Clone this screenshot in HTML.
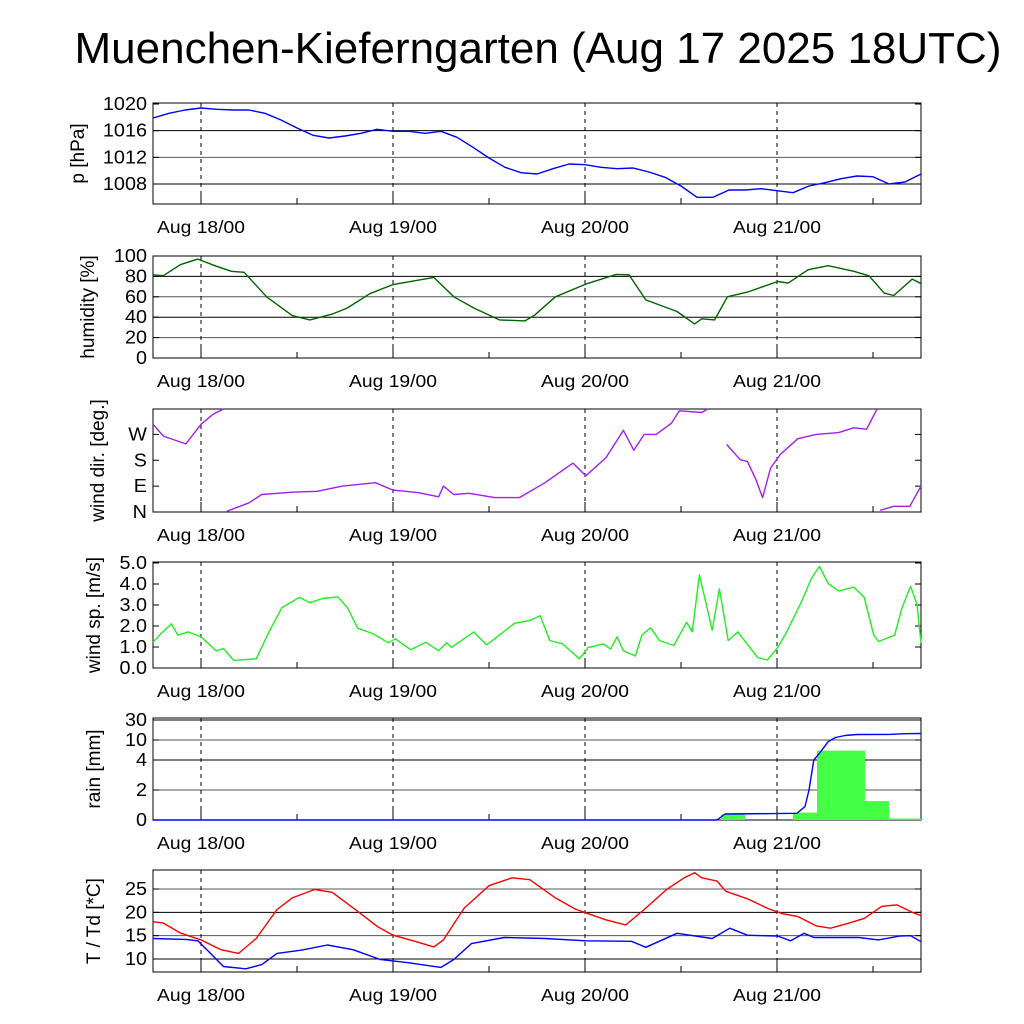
<!DOCTYPE html>
<html><head><meta charset="utf-8"><title>Muenchen-Kieferngarten</title>
<style>
html,body{margin:0;padding:0;background:#fff;}
svg{display:block;font-family:"Liberation Sans",sans-serif;}
</style></head>
<body>
<svg id="chart" width="1024" height="1024" viewBox="0 0 1024 1024" xmlns="http://www.w3.org/2000/svg">
<text x="538" y="63" font-size="44" text-anchor="middle">Muenchen-Kieferngarten (Aug 17 2025 18UTC)</text>
</svg>
<script>
// ---- data (hours since Aug 17 18UTC) ----
const dayLabels = ["Aug 18/00","Aug 19/00","Aug 20/00","Aug 21/00"];
const dayHours = [6,30,54,78];
const halfDayHours = [18,42,66,90];

const presHours = [0,2,4,6,8,10,12,14,16,18,20,22,24,26,28,30,32,34,36,38,40,42,44,46,48,50,52,54,56,58,60,62,64,66,68,70,72,74,76,78,80,82,84,86,88,90,92,94,96];
const presValues = [1017.9,1018.6,1019.1,1019.4,1019.2,1019.1,1019.1,1018.6,1017.6,1016.4,1015.3,1014.9,1015.2,1015.6,1016.2,1015.9,1015.9,1015.6,1015.9,1015.0,1013.5,1011.9,1010.5,1009.7,1009.5,1010.3,1011.0,1010.9,1010.5,1010.3,1010.4,1009.8,1009.0,1007.7,1006.0,1006.0,1007.1,1007.1,1007.3,1007.0,1006.7,1007.7,1008.2,1008.8,1009.2,1009.1,1008.0,1008.3,1009.5];
const presTicks = [1008,1012,1016,1020];

const humHours = [0,1.3,3.4,5.6,7.9,9.8,11.4,14.2,17.4,19.6,22.4,24.3,27.1,30,35.1,37.6,40.1,43.3,46.5,47.7,50.3,54.1,57.9,59.5,61.6,65.5,67.7,68.6,70.2,71.8,74.3,78.1,79.4,81.9,84.4,87.6,89.5,91.4,92.6,94.9,96];
const humValues = [81.6,80.7,91.5,97,90,85,84,60,41.6,37.4,43,49,63,72,79,60,49,37.4,36.4,42,60,72.5,82,81.6,57,45.6,33.4,38.4,37.4,60,64.6,75,73.4,86.6,90.5,85,80.6,63.6,61.3,77.4,73];
const humTicks = [0,20,40,60,80,100];

const dirHours = [0,1.3,4.1,6,7.5,8.8,9.2,12,13.6,17.4,20.5,23.7,27.8,30,33.2,35.7,36.3,37.6,39.5,42.7,45.8,49,52.5,54.1,56.6,58.8,60.1,61.4,62.9,64.8,65.8,68.6,69.3,69.4,71.7,73.4,74.3,75.3,76.2,77.2,78.4,80.6,82.9,85.7,87.6,89.2,90.5,90.9,92.6,94.6,96];
const dirValues = [305,264,237,305,340,360,2,32,61,69,72,90,102,76,67,53,90,61,65,50,50,102,170,126,188,284,215,270,270,309,352,346,360,0,235,182,176,117,50,153,200,255,270,276,293,288,358,6,20,20,90];
const dirTicks = [0,90,180,270];
const dirTickLabels = ["N","E","S","W"];

const spdHours = [0,1,2.3,3.1,4.4,6,7.9,8.8,10.1,12.9,14.5,16.1,18.3,19.6,21.2,23.1,24.3,25.6,27.5,29.4,30.3,32.2,34.1,35.7,36.7,37.3,40.1,41.7,45.2,47.1,48.4,49.6,51.2,53.3,54.4,56.3,57.2,58,58.8,60.3,61.1,62.2,63.3,65.1,66.7,67.4,68.3,69.9,70.8,71.9,73.1,75.6,76.8,78.1,79.1,81,82.3,83.3,84.4,85.7,87.6,88.9,90.1,90.7,92.7,93.6,94.7,95.5,96];
const spdValues = [1.23,1.64,2.1,1.56,1.72,1.48,0.82,0.93,0.36,0.44,1.72,2.87,3.36,3.11,3.31,3.39,2.87,1.89,1.64,1.2,1.39,0.87,1.23,0.82,1.2,0.98,1.72,1.1,2.13,2.26,2.49,1.31,1.15,0.44,0.98,1.15,0.9,1.48,0.82,0.57,1.56,1.92,1.31,1.07,2.18,1.72,4.43,1.8,3.77,1.31,1.72,0.49,0.38,0.98,1.64,3.11,4.26,4.84,4.02,3.66,3.85,3.36,1.56,1.26,1.56,2.84,3.89,3.03,1.2];
const spdTicks = [0,1,2,3,4,5];

const rainBarStart = [71,80,83,86,89,92];
const rainBarEnd = [74,83,86,89,92,96];
const rainBarValues = [0.37,0.49,6.8,6.8,1.26,0.1];
const rainSumHours = [0,70.5,71.5,80.5,81.5,82,82.6,83.3,84.4,85.3,86.5,88,92,94,96];
const rainSumValues = [0,0,0.4,0.45,0.9,2,4,6,9.5,12.5,14.5,15.5,15.6,16.3,16.5];
const rainTicks = [0,2,4,10,30];

const tHours = [0,1.3,3.4,6,8.5,10.7,12.9,15.5,17.4,20.2,22.4,25.6,28.1,30,32.9,35.1,36.3,38.9,42,44.9,47.1,50.3,52.8,54.4,56.6,59.1,61.4,64.2,66.4,67.7,68.6,70.5,71.6,74.3,76.9,78.7,80.6,82.9,84.7,87,88.9,91.1,93,94.9,96];
const tValues = [18.0,17.7,15.6,14.1,12.0,11.2,14.4,20.6,23.1,24.9,24.3,20.2,16.9,15.1,13.7,12.6,14.1,20.9,25.7,27.4,27.0,23.1,20.7,19.7,18.4,17.3,20.6,24.9,27.4,28.5,27.4,26.7,24.5,22.9,20.8,19.7,19.1,17.1,16.6,17.7,18.7,21.3,21.6,20.0,19.3];
const tdHours = [0,4.1,5.6,7.3,8.8,11.6,13.6,15.5,18.6,21.8,25,28.4,31.9,36,37.6,39.8,43.9,49,54.1,59.8,61.6,65.5,69.9,72.1,74.3,78.1,79.7,81.4,82.6,88.2,90.7,93.3,94.7,96];
const tdValues = [14.4,14.2,13.9,11.0,8.4,7.9,8.8,11.2,11.9,13.0,12.0,9.9,9.2,8.2,9.9,13.3,14.6,14.4,13.9,13.8,12.5,15.5,14.4,16.6,15.1,14.9,13.9,15.5,14.6,14.6,14.1,14.9,15.0,13.7];
const tTicks = [10,15,20,25];

// ---- layout ----
const X0 = 153, X1 = 921, H0 = 0, H1 = 96;
const xs = h => X0 + (h - H0) / (H1 - H0) * (X1 - X0);
const svg = document.getElementById('chart');
const NS = 'http://www.w3.org/2000/svg';
function mk(tag, attrs, parent) {
  const e = document.createElementNS(NS, tag);
  for (const k in attrs) e.setAttribute(k, attrs[k]);
  (parent || svg).appendChild(e);
  return e;
}
function stretch(el, k) {
  const L = el.getComputedTextLength();
  if (L > 0) { el.setAttribute('textLength', (L * k).toFixed(1)); el.setAttribute('lengthAdjust', 'spacingAndGlyphs'); }
}
function linY(v0, y0, v1, y1) { return v => y0 + (v - v0) / (v1 - v0) * (y1 - y0); }

function panel(name, top, bottom, yLabel, yLabelX, ticks, tickLabels, yScale, grids) {
  const g = mk('g', {});
  
  
  ticks.forEach((t, i) => {
    const y = yScale(t);
    if (grids && y > top + 1 && y < bottom - 1) {
      const gl = mk('line', {x1: X0, x2: X1, y1: y, y2: y, stroke: i % 2 ? '#555' : '#000', 'stroke-width': 1}, g);
      
      
    }
    mk('line', {x1: X0, x2: X0 + 6, y1: y, y2: y, stroke: '#000'}, g);
    mk('line', {x1: X1 - 6, x2: X1, y1: y, y2: y, stroke: '#000'}, g);
    const tl = mk('text', {x: 147, y: y + 6, 'font-size': 18, 'text-anchor': 'end'}, g);
    tl.textContent = tickLabels[i];
    
    
    stretch(tl, 1.1);
  });
  dayHours.forEach(h => {
    const x = xs(h);
    const dl = mk('line', {x1: x, x2: x, y1: top, y2: bottom, stroke: '#000', 'stroke-dasharray': '4,4'}, g);
    
    
    mk('line', {x1: x, x2: x, y1: bottom - 10, y2: bottom, stroke: '#000'}, g);
  });
  halfDayHours.forEach(h => {
    const x = xs(h);
    mk('line', {x1: x, x2: x, y1: bottom - 6, y2: bottom, stroke: '#000'}, g);
  });
  const fr = mk('rect', {x: X0, y: top, width: X1 - X0, height: bottom - top, fill: 'none', stroke: '#000', 'stroke-width': 1}, g);
  
  
  const cy = (top + bottom) / 2;
  const yl = mk('text', {x: yLabelX, y: cy, 'font-size': 19, 'text-anchor': 'middle', transform: 'rotate(-90 ' + yLabelX + ' ' + cy + ')'}, g);
  yl.textContent = yLabel;
  
  
  dayHours.forEach((h, i) => {
    const xl = mk('text', {x: xs(h), y: bottom + 29, 'font-size': 17.5, 'text-anchor': 'middle', textLength: 88, lengthAdjust: 'spacingAndGlyphs'}, g);
    xl.textContent = dayLabels[i];
    
    
  });
  return g;
}
function series(name, hours, values, yScale, color, top, bottom, wrap) {
  let segs = [[]];
  for (let i = 0; i < hours.length; i++) {
    if (wrap && i > 0 && Math.abs(values[i] - values[i - 1]) > 180) segs.push([]);
    segs[segs.length - 1].push([xs(hours[i]), yScale(values[i])]);
  }
  segs.forEach(s => {
    if (s.length < 2) return;
    const p = mk('polyline', {points: s.map(q => q[0].toFixed(1) + ',' + Math.max(top, Math.min(bottom, q[1])).toFixed(1)).join(' '), fill: 'none', stroke: color, 'stroke-width': 1.4, 'stroke-linejoin': 'round'});
    
    
  });
}

const yP = linY(1020, 104, 1008, 184);
panel('pressure', 103, 204, 'p [hPa]', 84, presTicks, presTicks.map(String), yP, true);
series('pressure-line', presHours, presValues, yP, '#0000ff', 103, 204);

const yH = linY(0, 358, 100, 256);
panel('humidity', 256, 358, 'humidity [%]', 94, humTicks, humTicks.map(String), yH, true);
series('humidity-line', humHours, humValues, yH, '#006400', 256, 358);

const yD = linY(0, 512, 360, 408.5);
panel('wind-direction', 409, 512, 'wind dir. [deg.]', 104, dirTicks, dirTickLabels, yD, false);
series('wind-direction-line', dirHours, dirValues, yD, '#a020f0', 409, 512, true);

const yS = linY(0, 668, 5, 563);
panel('wind-speed', 562, 668, 'wind sp. [m/s]', 100, spdTicks, spdTicks.map(v => v.toFixed(1)), yS, false);
series('wind-speed-line', spdHours, spdValues, yS, '#22ee22', 562, 668);

const rainPix = [820, 790, 760, 740, 720];
function yR(v) {
  for (let i = 0; i < rainTicks.length - 1; i++) {
    if (v <= rainTicks[i + 1]) return rainPix[i] + (v - rainTicks[i]) / (rainTicks[i + 1] - rainTicks[i]) * (rainPix[i + 1] - rainPix[i]);
  }
  return 718;
}
panel('rain', 718, 820, 'rain [mm]', 100, rainTicks, rainTicks.map(String), yR, true);
rainBarValues.forEach((v, i) => {
  const x = xs(rainBarStart[i]), w = xs(rainBarEnd[i]) - x, y = yR(v);
  const b = mk('rect', {x: x, y: y, width: w, height: Math.max(1, 820 - y), fill: '#44ff44'});
  
  
});
series('rain-sum-line', rainSumHours, rainSumValues, yR, '#0000ff', 718, 820);

const yT = linY(10, 959, 25, 889);
panel('temperature', 870, 972, 'T / Td [*C]', 100, tTicks, tTicks.map(String), yT, true);
series('temperature-line', tHours, tValues, yT, '#ff0000', 870, 972);
series('dewpoint-line', tdHours, tdValues, yT, '#0000ff', 870, 972);
</script>
</body></html>
